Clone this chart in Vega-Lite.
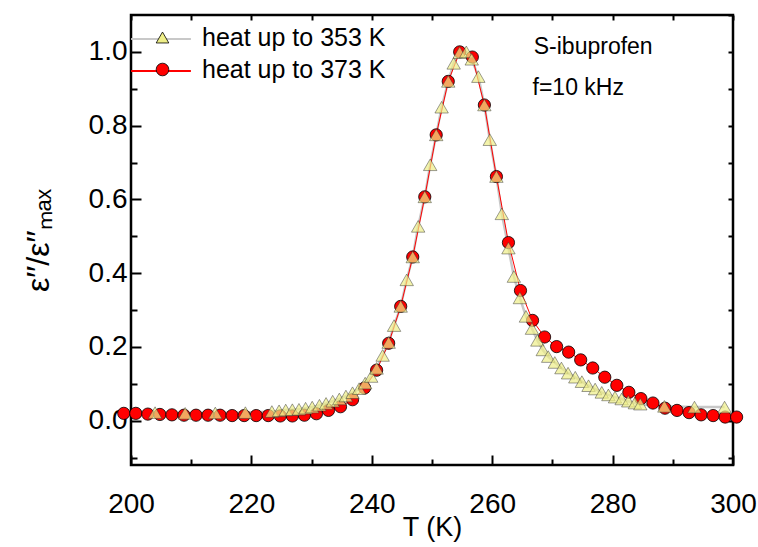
{
  "$schema": "https://vega.github.io/schema/vega-lite/v6.json",
  "width": 602,
  "height": 450,
  "autosize": {"type": "none"},
  "padding": {"left": 131, "top": 15, "right": 25, "bottom": 82},
  "background": "white",
  "config": {
    "font": "Liberation Sans",
    "view": {"stroke": "black", "strokeWidth": 2.5},
    "axis": {"grid": false, "domain": false, "tickColor": "black", "labelColor": "black", "titleColor": "black", "labelFont": "Liberation Sans", "titleFont": "Liberation Sans", "titleFontWeight": "normal", "labelFlush": false}
  },
  "datasets": {
    "tri": [
      {"T": 204, "v": 0.022, "s": "heat up to 353 K", "l": "a"},
      {"T": 209, "v": 0.02, "s": "heat up to 353 K", "l": "a"},
      {"T": 214, "v": 0.021, "s": "heat up to 353 K", "l": "a"},
      {"T": 219, "v": 0.022, "s": "heat up to 353 K", "l": "a"},
      {"T": 223.4, "v": 0.025, "s": "heat up to 353 K", "l": "a"},
      {"T": 224.6, "v": 0.027, "s": "heat up to 353 K", "l": "a"},
      {"T": 225.7, "v": 0.029, "s": "heat up to 353 K", "l": "a"},
      {"T": 226.8, "v": 0.03, "s": "heat up to 353 K", "l": "a"},
      {"T": 227.9, "v": 0.031, "s": "heat up to 353 K", "l": "a"},
      {"T": 229.0, "v": 0.034, "s": "heat up to 353 K", "l": "a"},
      {"T": 230.1, "v": 0.037, "s": "heat up to 353 K", "l": "a"},
      {"T": 231.3, "v": 0.042, "s": "heat up to 353 K", "l": "a"},
      {"T": 232.4, "v": 0.047, "s": "heat up to 353 K", "l": "a"},
      {"T": 233.5, "v": 0.053, "s": "heat up to 353 K", "l": "a"},
      {"T": 234.6, "v": 0.059, "s": "heat up to 353 K", "l": "a"},
      {"T": 235.7, "v": 0.067, "s": "heat up to 353 K", "l": "a"},
      {"T": 236.8, "v": 0.076, "s": "heat up to 353 K", "l": "a"},
      {"T": 237.9, "v": 0.087, "s": "heat up to 353 K", "l": "a"},
      {"T": 238.9, "v": 0.102, "s": "heat up to 353 K", "l": "a"},
      {"T": 239.9, "v": 0.12, "s": "heat up to 353 K", "l": "a"},
      {"T": 240.8, "v": 0.142, "s": "heat up to 353 K", "l": "a"},
      {"T": 241.8, "v": 0.177, "s": "heat up to 353 K", "l": "a"},
      {"T": 242.8, "v": 0.212, "s": "heat up to 353 K", "l": "a"},
      {"T": 243.7, "v": 0.258, "s": "heat up to 353 K", "l": "a"},
      {"T": 244.8, "v": 0.31, "s": "heat up to 353 K", "l": "a"},
      {"T": 245.8, "v": 0.382, "s": "heat up to 353 K", "l": "a"},
      {"T": 246.8, "v": 0.444, "s": "heat up to 353 K", "l": "a"},
      {"T": 247.7, "v": 0.527, "s": "heat up to 353 K", "l": "a"},
      {"T": 248.8, "v": 0.607, "s": "heat up to 353 K", "l": "a"},
      {"T": 249.7, "v": 0.694, "s": "heat up to 353 K", "l": "a"},
      {"T": 250.7, "v": 0.775, "s": "heat up to 353 K", "l": "a"},
      {"T": 251.6, "v": 0.85, "s": "heat up to 353 K", "l": "a"},
      {"T": 252.7, "v": 0.92, "s": "heat up to 353 K", "l": "a"},
      {"T": 253.6, "v": 0.969, "s": "heat up to 353 K", "l": "a"},
      {"T": 254.6, "v": 0.998, "s": "heat up to 353 K", "l": "a"},
      {"T": 255.7, "v": 1.0, "s": "heat up to 353 K", "l": "a"},
      {"T": 256.6, "v": 0.98, "s": "heat up to 353 K", "l": "a"},
      {"T": 257.7, "v": 0.933, "s": "heat up to 353 K", "l": "a"},
      {"T": 258.7, "v": 0.856, "s": "heat up to 353 K", "l": "a"},
      {"T": 259.6, "v": 0.762, "s": "heat up to 353 K", "l": "a"},
      {"T": 260.7, "v": 0.662, "s": "heat up to 353 K", "l": "a"},
      {"T": 261.6, "v": 0.561, "s": "heat up to 353 K", "l": "a"},
      {"T": 262.7, "v": 0.468, "s": "heat up to 353 K", "l": "a"},
      {"T": 263.6, "v": 0.391, "s": "heat up to 353 K", "l": "a"},
      {"T": 264.6, "v": 0.333, "s": "heat up to 353 K", "l": "a"},
      {"T": 265.6, "v": 0.283, "s": "heat up to 353 K", "l": "a"},
      {"T": 266.6, "v": 0.25, "s": "heat up to 353 K", "l": "a"},
      {"T": 267.5, "v": 0.218, "s": "heat up to 353 K", "l": "a"},
      {"T": 268.4, "v": 0.192, "s": "heat up to 353 K", "l": "a"},
      {"T": 269.3, "v": 0.174, "s": "heat up to 353 K", "l": "a"},
      {"T": 270.4, "v": 0.158, "s": "heat up to 353 K", "l": "a"},
      {"T": 271.5, "v": 0.143, "s": "heat up to 353 K", "l": "a"},
      {"T": 272.6, "v": 0.129, "s": "heat up to 353 K", "l": "a"},
      {"T": 273.8, "v": 0.118, "s": "heat up to 353 K", "l": "a"},
      {"T": 274.9, "v": 0.106, "s": "heat up to 353 K", "l": "a"},
      {"T": 276.0, "v": 0.095, "s": "heat up to 353 K", "l": "a"},
      {"T": 277.1, "v": 0.086, "s": "heat up to 353 K", "l": "a"},
      {"T": 278.2, "v": 0.077, "s": "heat up to 353 K", "l": "a"},
      {"T": 279.3, "v": 0.07, "s": "heat up to 353 K", "l": "a"},
      {"T": 280.4, "v": 0.064, "s": "heat up to 353 K", "l": "a"},
      {"T": 281.5, "v": 0.059, "s": "heat up to 353 K", "l": "a"},
      {"T": 282.6, "v": 0.053, "s": "heat up to 353 K", "l": "a"},
      {"T": 283.7, "v": 0.048, "s": "heat up to 353 K", "l": "a"},
      {"T": 284.6, "v": 0.045, "s": "heat up to 353 K", "l": "a"},
      {"T": 288.6, "v": 0.039, "s": "heat up to 353 K", "l": "a"},
      {"T": 293.6, "v": 0.037, "s": "heat up to 353 K", "l": "a"},
      {"T": 298.6, "v": 0.037, "s": "heat up to 353 K", "l": "a"}
    ],
    "cir": [
      {"T": 198.8, "v": 0.02, "s": "heat up to 373 K", "l": "b"},
      {"T": 200.8, "v": 0.02, "s": "heat up to 373 K", "l": "b"},
      {"T": 202.8, "v": 0.018, "s": "heat up to 373 K", "l": "b"},
      {"T": 204.8, "v": 0.017, "s": "heat up to 373 K", "l": "b"},
      {"T": 206.8, "v": 0.016, "s": "heat up to 373 K", "l": "b"},
      {"T": 208.8, "v": 0.015, "s": "heat up to 373 K", "l": "b"},
      {"T": 210.8, "v": 0.015, "s": "heat up to 373 K", "l": "b"},
      {"T": 212.8, "v": 0.015, "s": "heat up to 373 K", "l": "b"},
      {"T": 214.8, "v": 0.015, "s": "heat up to 373 K", "l": "b"},
      {"T": 216.8, "v": 0.014, "s": "heat up to 373 K", "l": "b"},
      {"T": 218.8, "v": 0.014, "s": "heat up to 373 K", "l": "b"},
      {"T": 220.8, "v": 0.014, "s": "heat up to 373 K", "l": "b"},
      {"T": 222.8, "v": 0.014, "s": "heat up to 373 K", "l": "b"},
      {"T": 224.8, "v": 0.013, "s": "heat up to 373 K", "l": "b"},
      {"T": 226.8, "v": 0.013, "s": "heat up to 373 K", "l": "b"},
      {"T": 228.8, "v": 0.015, "s": "heat up to 373 K", "l": "b"},
      {"T": 230.8, "v": 0.019, "s": "heat up to 373 K", "l": "b"},
      {"T": 232.8, "v": 0.028, "s": "heat up to 373 K", "l": "b"},
      {"T": 234.8, "v": 0.038, "s": "heat up to 373 K", "l": "b"},
      {"T": 236.8, "v": 0.057, "s": "heat up to 373 K", "l": "b"},
      {"T": 238.8, "v": 0.089, "s": "heat up to 373 K", "l": "b"},
      {"T": 240.8, "v": 0.137, "s": "heat up to 373 K", "l": "b"},
      {"T": 242.8, "v": 0.21, "s": "heat up to 373 K", "l": "b"},
      {"T": 244.8, "v": 0.31, "s": "heat up to 373 K", "l": "b"},
      {"T": 246.8, "v": 0.444, "s": "heat up to 373 K", "l": "b"},
      {"T": 248.8, "v": 0.607, "s": "heat up to 373 K", "l": "b"},
      {"T": 250.7, "v": 0.775, "s": "heat up to 373 K", "l": "b"},
      {"T": 252.7, "v": 0.92, "s": "heat up to 373 K", "l": "b"},
      {"T": 254.6, "v": 1.0, "s": "heat up to 373 K", "l": "b"},
      {"T": 256.7, "v": 0.986, "s": "heat up to 373 K", "l": "b"},
      {"T": 258.7, "v": 0.856, "s": "heat up to 373 K", "l": "b"},
      {"T": 260.7, "v": 0.662, "s": "heat up to 373 K", "l": "b"},
      {"T": 262.7, "v": 0.483, "s": "heat up to 373 K", "l": "b"},
      {"T": 264.7, "v": 0.353, "s": "heat up to 373 K", "l": "b"},
      {"T": 266.7, "v": 0.272, "s": "heat up to 373 K", "l": "b"},
      {"T": 268.7, "v": 0.227, "s": "heat up to 373 K", "l": "b"},
      {"T": 270.7, "v": 0.201, "s": "heat up to 373 K", "l": "b"},
      {"T": 272.7, "v": 0.186, "s": "heat up to 373 K", "l": "b"},
      {"T": 274.7, "v": 0.165, "s": "heat up to 373 K", "l": "b"},
      {"T": 276.7, "v": 0.143, "s": "heat up to 373 K", "l": "b"},
      {"T": 278.7, "v": 0.118, "s": "heat up to 373 K", "l": "b"},
      {"T": 280.7, "v": 0.096, "s": "heat up to 373 K", "l": "b"},
      {"T": 282.7, "v": 0.077, "s": "heat up to 373 K", "l": "b"},
      {"T": 284.7, "v": 0.06, "s": "heat up to 373 K", "l": "b"},
      {"T": 286.7, "v": 0.048, "s": "heat up to 373 K", "l": "b"},
      {"T": 288.7, "v": 0.034, "s": "heat up to 373 K", "l": "b"},
      {"T": 290.7, "v": 0.028, "s": "heat up to 373 K", "l": "b"},
      {"T": 292.7, "v": 0.022, "s": "heat up to 373 K", "l": "b"},
      {"T": 294.7, "v": 0.016, "s": "heat up to 373 K", "l": "b"},
      {"T": 296.7, "v": 0.014, "s": "heat up to 373 K", "l": "b"},
      {"T": 298.7, "v": 0.01, "s": "heat up to 373 K", "l": "b"},
      {"T": 300.6, "v": 0.01, "s": "heat up to 373 K", "l": "b"}
    ],
    "notes": [
      {"T": 266.9, "v": 1.013, "label": "S-ibuprofen"},
      {"T": 266.7, "v": 0.902, "label": "f=10 kHz"}
    ]
  },
  "resolve": {"axis": {"x": "independent", "y": "independent"}},
  "layer": [
    {
      "data": {"name": "tri"},
      "mark": {"type": "line", "strokeWidth": 2.5, "clip": false},
      "encoding": {
        "x": {"field": "T", "type": "quantitative", "scale": {"domain": [200, 300], "nice": false, "zero": false},
          "axis": {"orient": "bottom", "values": [200, 220, 240, 260, 280, 300], "tickSize": -10, "tickWidth": 2, "labelFontSize": 28, "labelPadding": 35, "title": "T (K)", "titleFontSize": 27, "titleY": 62, "titleBaseline": "middle"}},
        "y": {"field": "v", "type": "quantitative", "scale": {"domain": [-0.12, 1.1], "nice": false, "zero": false},
          "axis": {"orient": "left", "values": [0, 0.2, 0.4, 0.6, 0.8, 1.0], "format": ".1f", "tickSize": -10, "tickWidth": 2, "labelFontSize": 28, "labelPadding": 14, "title": "ε′′/ε′′ₘₐₓ", "titleFontSize": 32, "titleX": -93, "titleBaseline": "middle"}},
        "stroke": {"field": "l", "type": "nominal", "scale": {"domain": ["a", "b"], "range": ["#c8c8c8", "#ff0000"]},
          "legend": {"orient": "none", "legendX": 16, "legendY": 10, "title": null, "symbolType": "M-2.3,0H2.3", "symbolSize": 676, "symbolStrokeWidth": 2, "labelOpacity": 0, "labelFontSize": 25, "labelLimit": 0, "rowPadding": 5, "padding": 0}}
      }
    },
    {
      "data": {"name": "cir"},
      "mark": {"type": "line", "strokeWidth": 1, "clip": false},
      "encoding": {
        "x": {"field": "T", "type": "quantitative", "scale": {"domain": [200, 300], "nice": false, "zero": false},
          "axis": {"orient": "bottom", "values": [210, 230, 250, 270, 290], "tickSize": -6, "tickWidth": 2, "labels": false, "title": null}},
        "y": {"field": "v", "type": "quantitative", "scale": {"domain": [-0.12, 1.1], "nice": false, "zero": false},
          "axis": {"orient": "left", "values": [-0.1, 0.1, 0.3, 0.5, 0.7, 0.9], "tickSize": -6, "tickWidth": 2, "labels": false, "title": null}},
        "stroke": {"field": "l", "type": "nominal", "scale": {"domain": ["a", "b"], "range": ["#c8c8c8", "#ff0000"]}}
      }
    },
    {
      "data": {"name": "cir"},
      "mark": {"type": "point", "filled": true, "size": 150, "stroke": "black", "strokeWidth": 0.8, "opacity": 1, "clip": false},
      "encoding": {
        "x": {"field": "T", "type": "quantitative", "scale": {"domain": [200, 300], "nice": false, "zero": false},
          "axis": {"orient": "top", "values": [200, 210, 220, 230, 240, 250, 260, 270, 280, 290, 300], "tickSize": -5, "tickWidth": 2, "labels": false, "title": null}},
        "y": {"field": "v", "type": "quantitative", "scale": {"domain": [-0.12, 1.1], "nice": false, "zero": false},
          "axis": {"orient": "right", "values": [-0.1, 0, 0.1, 0.2, 0.3, 0.4, 0.5, 0.6, 0.7, 0.8, 0.9, 1.0, 1.1], "tickSize": -5, "tickWidth": 2, "labels": false, "title": null}},
        "fill": {"field": "s", "type": "nominal", "scale": {"domain": ["heat up to 353 K", "heat up to 373 K"], "range": ["#eeee88", "#ff0000"]},
          "legend": {"orient": "none", "legendX": 19, "legendY": 10, "title": null, "symbolSize": 160, "symbolStrokeColor": "black", "symbolStrokeWidth": 0.8, "labelFontSize": 25, "labelLimit": 0, "labelColor": "black", "labelOffset": 27, "rowPadding": 6, "padding": 0}},
        "shape": {"field": "s", "type": "nominal", "scale": {"domain": ["heat up to 353 K", "heat up to 373 K"], "range": ["triangle-up", "circle"]}}
      }
    },
    {
      "data": {"name": "tri"},
      "mark": {"type": "point", "filled": true, "size": 180, "stroke": "#333333", "strokeWidth": 0.6, "fillOpacity": 0.7, "strokeOpacity": 0.8, "clip": false},
      "encoding": {
        "x": {"field": "T", "type": "quantitative", "scale": {"domain": [200, 300], "nice": false, "zero": false}, "axis": null},
        "y": {"field": "v", "type": "quantitative", "scale": {"domain": [-0.12, 1.1], "nice": false, "zero": false}, "axis": null},
        "fill": {"field": "s", "type": "nominal", "scale": {"domain": ["heat up to 353 K", "heat up to 373 K"], "range": ["#eeee88", "#ff0000"]}},
        "shape": {"field": "s", "type": "nominal", "scale": {"domain": ["heat up to 353 K", "heat up to 373 K"], "range": ["triangle-up", "circle"]}}
      }
    },
    {
      "data": {"name": "notes"},
      "mark": {"type": "text", "align": "left", "baseline": "middle", "fontSize": 23, "font": "Liberation Sans", "color": "black"},
      "encoding": {
        "x": {"field": "T", "type": "quantitative", "scale": {"domain": [200, 300], "nice": false, "zero": false}, "axis": null},
        "y": {"field": "v", "type": "quantitative", "scale": {"domain": [-0.12, 1.1], "nice": false, "zero": false}, "axis": null},
        "text": {"field": "label"}
      }
    }
  ]
}
